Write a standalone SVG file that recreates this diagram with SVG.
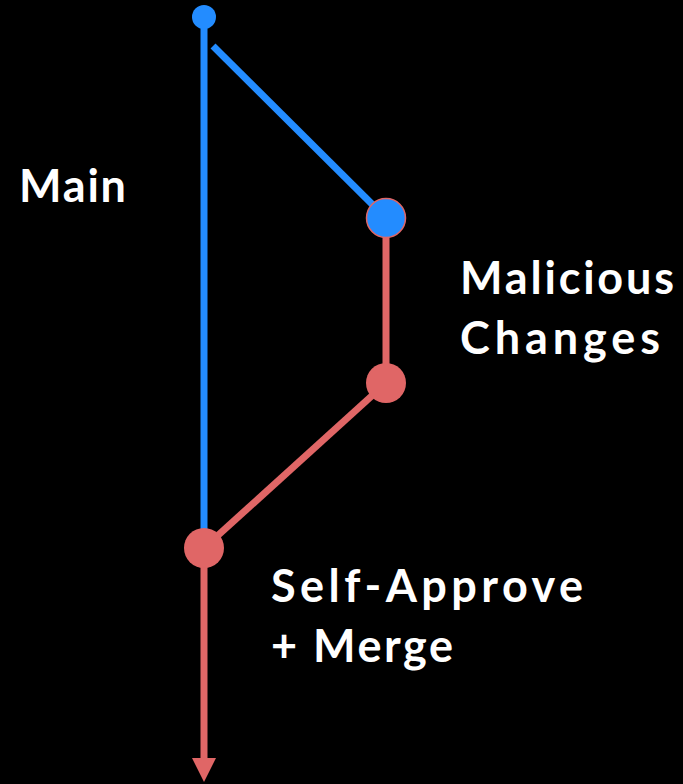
<svg xmlns="http://www.w3.org/2000/svg" width="683" height="784" viewBox="0 0 683 784">
<style>
.lbl{font-family:"Lato","Open Sans",sans-serif;font-weight:700;font-size:45px;fill:#ffffff}
.blue{stroke:#238cff;stroke-width:7;fill:none}
.red{stroke:#e06666;stroke-width:7;fill:none}
</style>
<defs>
<marker id="arr" markerUnits="userSpaceOnUse" markerWidth="24" markerHeight="26" refX="0" refY="12" orient="auto">
<path d="M0,0 L24,12 L0,24 Z" fill="#e06666"/>
</marker>
</defs>
<rect width="683" height="784" fill="#000000"/>
<g id="connectors">
<line class="blue" x1="204" y1="17" x2="204" y2="548"/>
<line class="blue" x1="213" y1="46" x2="386" y2="218"/>
<line class="red" x1="386" y1="218" x2="386" y2="383"/>
<line class="red" x1="386" y1="383" x2="204" y2="548"/>
<line class="red" x1="204" y1="548" x2="204" y2="758" marker-end="url(#arr)"/>
</g>
<g id="start"><circle cx="204" cy="17" r="12" fill="#238cff"/></g>
<g id="branch"><circle cx="386" cy="218" r="19.5" fill="#238cff" stroke="#e06666" stroke-width="1.5"/></g>
<g id="commit"><circle cx="386" cy="383" r="20" fill="#e06666"/></g>
<g id="merge"><circle cx="204" cy="548" r="20" fill="#e06666"/></g>
<g id="label-main"><text class="lbl" x="19" y="202" textLength="107" lengthAdjust="spacing">Main</text></g>
<g id="label-malicious"><text class="lbl" x="460" y="294" textLength="214" lengthAdjust="spacing">Malicious</text><text class="lbl" x="460" y="354" textLength="200" lengthAdjust="spacing">Changes</text></g>
<g id="label-merge"><text class="lbl" x="271" y="602" textLength="312" lengthAdjust="spacing">Self-Approve</text><text class="lbl" x="271" y="662" textLength="182" lengthAdjust="spacing">+ Merge</text></g>
</svg>
